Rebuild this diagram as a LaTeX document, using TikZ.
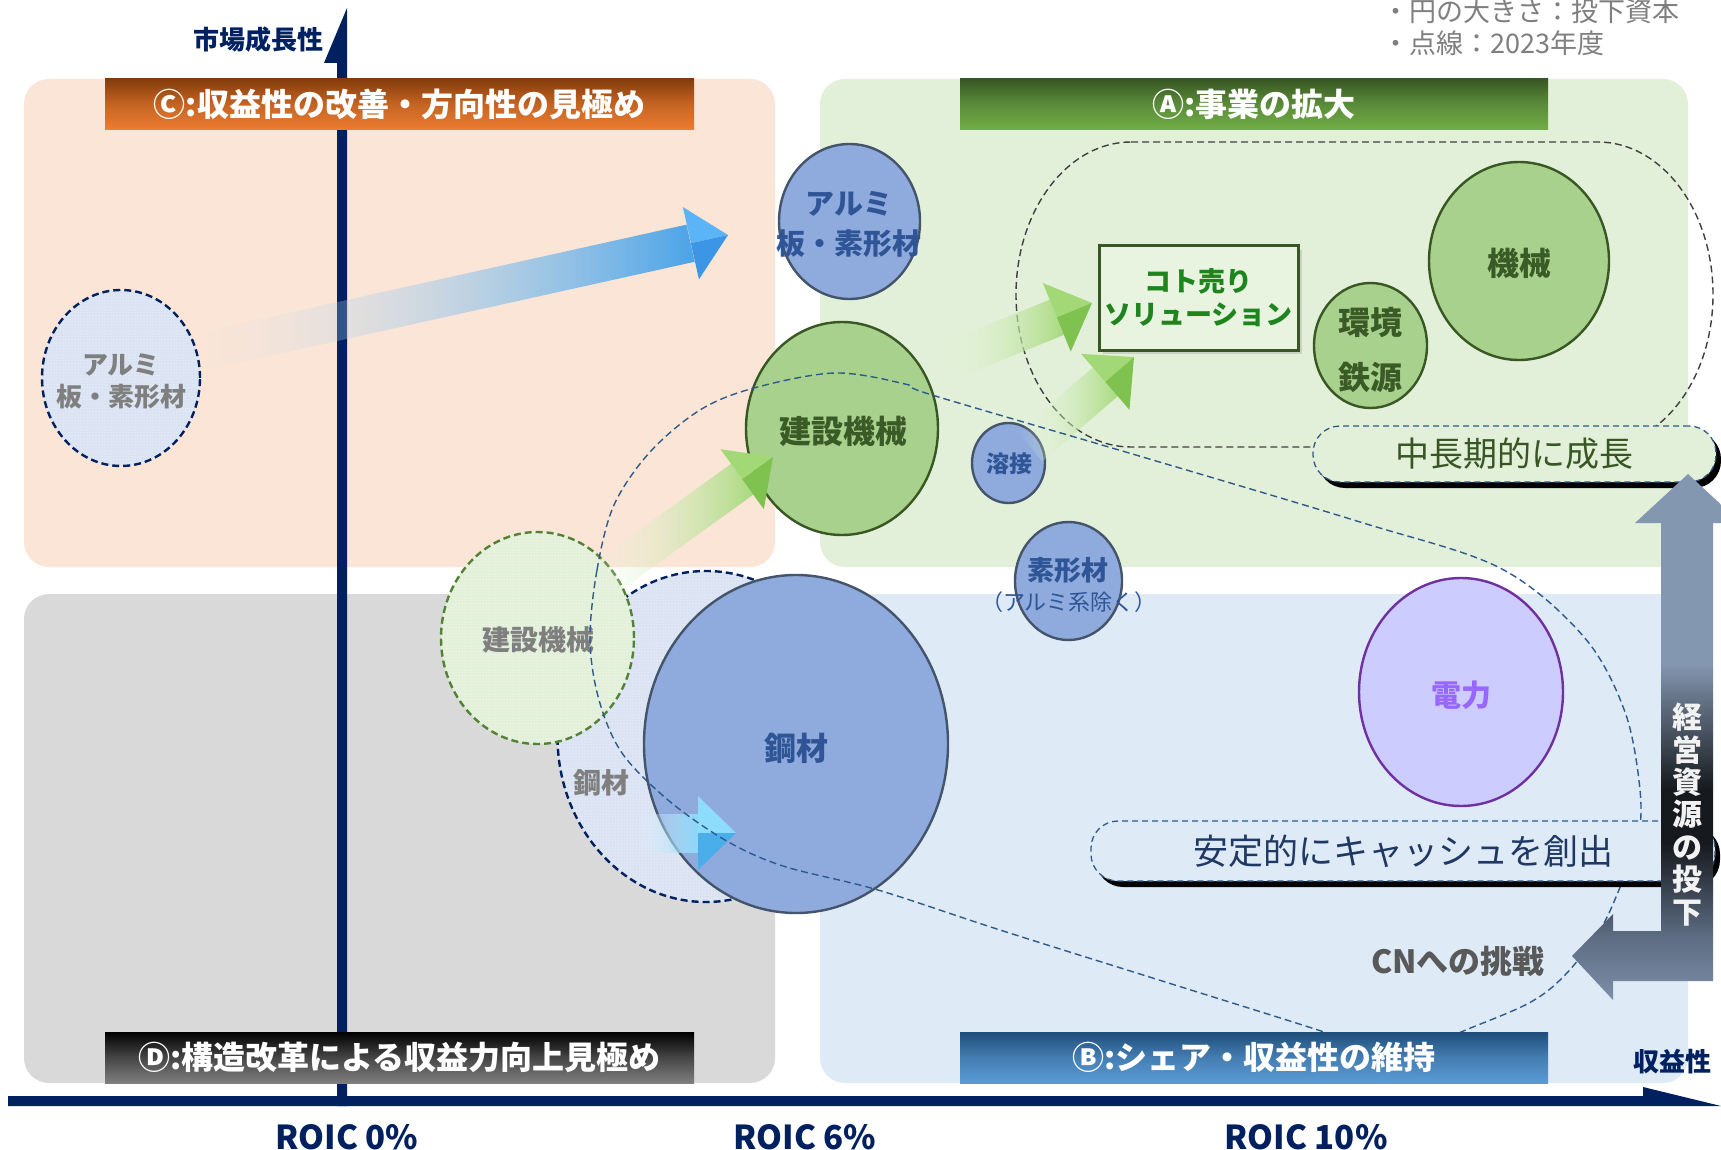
\documentclass[tikz,border=0pt]{standalone}
\usepackage{fontspec}
\setmainfont{Noto Sans CJK JP}
\usetikzlibrary{calc,shapes.geometric,fadings,patterns,shadows}

\definecolor{bgC}{HTML}{FBE5D6}
\definecolor{bgA}{HTML}{E2F0D9}
\definecolor{bgD}{HTML}{D9D9D9}
\definecolor{bgB}{HTML}{DEEBF7}
\definecolor{navy}{HTML}{002060}
\definecolor{blueFill}{HTML}{8FAADC}
\definecolor{blueLine}{HTML}{44546A}
\definecolor{blueText}{HTML}{2F5597}
\definecolor{greenFill}{HTML}{A9D18E}
\definecolor{greenLine}{HTML}{385723}
\definecolor{greenText}{HTML}{3A5A26}
\definecolor{purpleFill}{HTML}{CCCCFF}
\definecolor{purpleLine}{HTML}{7030A0}
\definecolor{purpleText}{HTML}{9966FF}
\definecolor{grayText}{HTML}{7F7F7F}
\definecolor{paleBlue}{HTML}{DAE3F3}
\definecolor{paleGreen}{HTML}{E2F0D9}
\definecolor{dashBlue}{HTML}{2E5A8C}
\definecolor{dashGray}{HTML}{404040}
\definecolor{dashGreen}{HTML}{548235}
\definecolor{kotoGreen}{HTML}{1E841E}
\definecolor{kotoFill}{HTML}{E8F4E0}
\definecolor{growGreen}{HTML}{375623}
\definecolor{cashNavy}{HTML}{1F3864}
\definecolor{orgTop}{HTML}{843C0C}
\definecolor{orgBot}{HTML}{ED7D31}
\definecolor{grnTop}{HTML}{385723}
\definecolor{grnBot}{HTML}{70AD47}
\definecolor{blkTop}{HTML}{000000}
\definecolor{blkBot}{HTML}{7F7F7F}
\definecolor{bluTop}{HTML}{1F4E79}
\definecolor{bluBot}{HTML}{5B9BD5}
\definecolor{ia1}{HTML}{7D8EA8}
\definecolor{ia2}{HTML}{5E6D83}
\definecolor{ia3}{HTML}{16191E}
\definecolor{ia4}{HTML}{8497B0}
\definecolor{cnGray}{HTML}{595959}
\definecolor{bShaftL}{HTML}{D8E8F4}
\definecolor{bShaftR}{HTML}{4AA3E8}
\definecolor{bHeadA}{HTML}{5AB4F5}
\definecolor{bHeadB}{HTML}{3D95E6}
\definecolor{gShaftL}{HTML}{F2FAEA}
\definecolor{gShaftR}{HTML}{A8DA7E}
\definecolor{gHeadA}{HTML}{A3D876}
\definecolor{gHeadB}{HTML}{80C250}
\definecolor{cShaftL}{HTML}{EAF8FE}
\definecolor{cShaftR}{HTML}{8AD8FA}
\definecolor{cHeadA}{HTML}{8EDCFC}
\definecolor{cHeadB}{HTML}{4AAEEA}

\pgfdeclareverticalshading{investshade}{100bp}{color(0bp)=(ia1); color(25bp)=(ia1); color(31bp)=(ia2); color(40bp)=(ia3); color(45bp)=(ia3); color(57bp)=(ia4); color(75bp)=(ia4); color(100bp)=(ia4)}
\tikzfading[name=fadetail, left color=transparent!100, right color=transparent!0]

\newcommand\jf[2]{\fontsize{#1}{#2}\selectfont}

\newcommand\fadearrow[7]{%
  \coordinate (#1tail) at #2;
  \coordinate (#1tip) at #3;
  \coordinate (#1base) at ($(#1tip)!38pt!(#1tail)$);
  \coordinate (#1sa) at ($(#1base)!19pt!90:(#1tip)$);
  \coordinate (#1sb) at ($(#1base)!19pt!-90:(#1tip)$);
  \coordinate (#1ta) at ($(#1tail)!19pt!90:(#1tip)$);
  \coordinate (#1tb) at ($(#1tail)!19pt!-90:(#1tip)$);
  \coordinate (#1ha) at ($(#1base)!37pt!90:(#1tip)$);
  \coordinate (#1hb) at ($(#1base)!37pt!-90:(#1tip)$);
  \shade[left color=#4, right color=#5, path fading=fadetail] (#1ta) -- (#1sa) -- (#1sb) -- (#1tb) -- cycle;
  \fill[#6] (#1tip) -- (#1ha) -- (#1base) -- cycle;
  \fill[#7] (#1tip) -- (#1hb) -- (#1base) -- cycle;
}

\tikzset{
  dashell/.style={ellipse, draw=#1, dash pattern=on 7pt off 4pt, line width=2.4pt, inner sep=0pt},
  solidell/.style 2 args={ellipse, draw=#1, fill=#2, line width=2.4pt, inner sep=0pt},
  txt/.style={inner sep=0pt, align=center},
  barsty/.style={minimum width=589pt, minimum height=51pt, inner sep=0pt, text=white, font=\jf{32}{38}\bfseries},
  pill/.style={draw=dashBlue, dash pattern=on 6pt off 4pt, line width=1.3pt, rounded corners=27pt, inner sep=0pt,
    drop shadow={shadow xshift=5pt, shadow yshift=-6pt, fill=black, opacity=1}},
  axlbl/.style={inner sep=0pt, text=navy, font=\jf{26}{30}\bfseries},
  roic/.style={inner sep=0pt, text=navy, font=\jf{33}{38}\bfseries},
  legend/.style={inner sep=0pt, anchor=west, text=grayText, font=\jf{27}{31}},
}

\begin{document}
\begin{tikzpicture}[x=1pt,y=-1pt]
\useasboundingbox[fill=white] (0,0) rectangle (1721,1150);

% quadrant backgrounds
\fill[bgC, rounded corners=25pt] (24,79) rectangle (775,567);
\fill[bgA, rounded corners=25pt] (820,79) rectangle (1688,567);
\fill[bgD, rounded corners=25pt] (24,594) rectangle (775,1083);
\fill[bgB, rounded corners=25pt] (820,594) rectangle (1688,1083);

% axes
\fill[navy] (347,8) -- (347,1106) -- (337,1106) -- (337,63) -- (324,63) -- cycle;
\fill[navy] (8,1096) -- (1643,1096) -- (1643,1087) -- (1721,1106) -- (8,1106) -- cycle;

% green dashed group (A)
\draw[draw=dashGray, line width=1.4pt, dash pattern=on 7pt off 4pt]
  (1131,142) -- (1598,142) arc[start angle=-90, end angle=90, x radius=115, y radius=152.5]
  -- (1131,447) arc[start angle=90, end angle=270, x radius=115, y radius=152.5] -- cycle;

% 2023 dashed circles
\node[dashell=navy, preaction={fill=paleBlue}, pattern=dots, pattern color=white,
      minimum width=158pt, minimum height=176pt] (alumiold) at (121,378) {};
\node[dashell=navy, preaction={fill=paleBlue}, pattern=dots, pattern color=white,
      minimum width=297pt, minimum height=331pt] (kouzaiold) at (706,736.5) {};
\node[dashell=dashGreen, preaction={fill=paleGreen}, pattern=dots, pattern color=white,
      minimum width=193pt, minimum height=212pt] (kenkiold) at (537.5,638) {};

% current circles
\node[solidell={blueLine}{blueFill}, minimum width=141pt, minimum height=155pt] (alumi) at (849.5,221.5) {};
\node[solidell={greenLine}{greenFill}, minimum width=192pt, minimum height=213pt] (kenki) at (842,428.5) {};
\node[solidell={blueLine}{blueFill}, minimum width=73pt, minimum height=80pt] (yosetsu) at (1008.5,463) {};
\node[solidell={blueLine}{blueFill}, minimum width=107pt, minimum height=118pt] (sokei) at (1068.5,581) {};
\node[solidell={blueLine}{blueFill}, minimum width=304pt, minimum height=338pt] (kouzai) at (796,744) {};
\node[solidell={greenLine}{greenFill}, minimum width=180pt, minimum height=198pt] (kikai) at (1519,261) {};
\node[solidell={greenLine}{greenFill}, minimum width=113pt, minimum height=125pt] (kankyo) at (1370.5,345.5) {};
\node[solidell={purpleLine}{purpleFill}, minimum width=204pt, minimum height=228pt] (denryoku) at (1461,692) {};

% labels in circles
\node[txt, text=grayText, font=\jf{26}{32}\bfseries] (alumioldT) at (121,381) {アルミ\\板・素形材};
\node[txt, text=grayText, font=\jf{28}{32}\bfseries] (kouzaioldT) at (601,783) {鋼材};
\node[txt, text=grayText, font=\jf{28}{32}\bfseries] (kenkioldT) at (538,640) {建設機械};
\node[txt, text=blueText, font=\jf{29}{40}\bfseries] (alumiT) at (849,224) {アルミ\\板・素形材};
\node[txt, text=greenText, font=\jf{32}{36}\bfseries] (kenkiT) at (843,431) {建設機械};
\node[txt, text=blueText, font=\jf{23}{28}\bfseries] (yosetsuT) at (1009,464) {溶接};
\node[txt, text=blueText, font=\jf{27}{30}\bfseries] (sokeiT) at (1068,570) {素形材};
\node[txt, text=blueText, font=\jf{22}{26}] (sokeiT2) at (1069,602) {（アルミ系除く）};
\node[txt, text=blueText, font=\jf{32}{36}\bfseries] (kouzaiT) at (796,748) {鋼材};
\node[txt, text=greenText, font=\jf{32}{36}\bfseries] (kikaiT) at (1519,263) {機械};
\node[txt, text=greenText, font=\jf{32}{55}\bfseries] (kankyoT) at (1370,349.5) {環境\\鉄源};
\node[txt, text=purpleText, font=\jf{30}{34}\bfseries] (denryokuT) at (1461,695) {電力};

% fading arrows
\fadearrow{ba}{(200,352)}{(728,235)}{bShaftL}{bShaftR}{bHeadA}{bHeadB}
\fadearrow{ga}{(597,584)}{(773,457)}{gShaftL}{gShaftR}{gHeadA}{gHeadB}
\fadearrow{gb}{(942,364)}{(1092,303)}{gShaftL}{gShaftR}{gHeadA}{gHeadB}
\fadearrow{gc}{(1030,447)}{(1134,357)}{gShaftL}{gShaftR}{gHeadA}{gHeadB}
\fadearrow{sa}{(635,833)}{(736,833)}{cShaftL}{cShaftR}{cHeadA}{cHeadB}

% koto-uri box
\node[draw=greenLine, line width=3pt, fill=kotoFill, minimum width=199pt, minimum height=104pt, inner sep=0pt,
      align=center, text=kotoGreen, font=\jf{27}{33}\bfseries,
      drop shadow={shadow xshift=4pt, shadow yshift=-4pt, opacity=0.25}] (koto) at (1198.5,298) {コト売り\\ソリューション};

% blue dashed group (B)
\draw[draw=dashBlue, line width=1.4pt, dash pattern=on 7pt off 4pt]
  plot[smooth cycle, tension=0.55] coordinates {(590,640) (597,570) (614,505) (650,452) (700,410) (754,388) (835,373) (905,384) (932,395) (1146,458) (1360,522) (1500,568) (1584,637) (1625,712) (1640,790) (1638,840) (1621,885) (1600,930) (1565,975) (1529,1003) (1461,1032) (1400,1058) (1318,1030) (1159,980) (1000,930) (878,890) (783,866) (725,840) (668,800) (622,753) (599,700)};

% quadrant title bars
\node[barsty, top color=orgTop, bottom color=orgBot, middle color=orgBot!62!orgTop] (barC) at (399.5,104.5) {Ⓒ:収益性の改善・方向性の見極め};
\node[barsty, minimum width=588pt, top color=grnTop, bottom color=grnBot, middle color=grnBot!62!grnTop] (barA) at (1254,104.5) {Ⓐ:事業の拡大};
\node[barsty, top color=blkTop, bottom color=blkBot, middle color=blkBot!55!blkTop] (barD) at (399.5,1057.5) {Ⓓ:構造改革による収益力向上見極め};
\node[barsty, minimum width=588pt, top color=bluTop, bottom color=bluBot, middle color=bluBot!62!bluTop] (barB) at (1254,1057.5) {Ⓑ:シェア・収益性の維持};

% message pills
\node[pill, fill=bgA, minimum width=403pt, minimum height=56pt, text=growGreen, font=\jf{34}{40}] (growth) at (1514.5,454) {中長期的に成長};
\node[pill, fill=bgB, minimum width=624pt, minimum height=60pt, text=cashNavy, font=\jf{35}{40}] (cash) at (1403,851) {安定的にキャッシュを創出};

% investment arrow
\shade[shading=investshade] (1661,523) -- (1635,523) -- (1688,474) -- (1741,523) -- (1713,523) -- (1713,981)
  -- (1613,981) -- (1613,1000) -- (1572,956) -- (1613,914) -- (1613,931) -- (1661,931) -- cycle;

\node[txt, text=white!95!black, font=\jf{30}{32.4}\bfseries] (invest) at (1687,814.5) {経\\営\\資\\源\\の\\投\\下};
\node[txt, text=cnGray, font=\jf{32}{36}\bfseries] (cn) at (1458,961) {CNへの挑戦};

% axis labels
\node[axlbl] (yaxis) at (258,39.5) {市場成長性};
\node[axlbl] (xaxis) at (1672,1062) {収益性};
\node[roic] (roic0) at (347,1137) {ROIC 0\%};
\node[roic] (roic6) at (805,1137) {ROIC 6\%};
\node[roic] (roic10) at (1306,1137) {ROIC 10\%};

% legend
\node[legend] (leg1) at (1382,11) {・円の大きさ：投下資本};
\node[legend] (leg2) at (1382,43) {・点線：2023年度};
\end{tikzpicture}
\end{document}
